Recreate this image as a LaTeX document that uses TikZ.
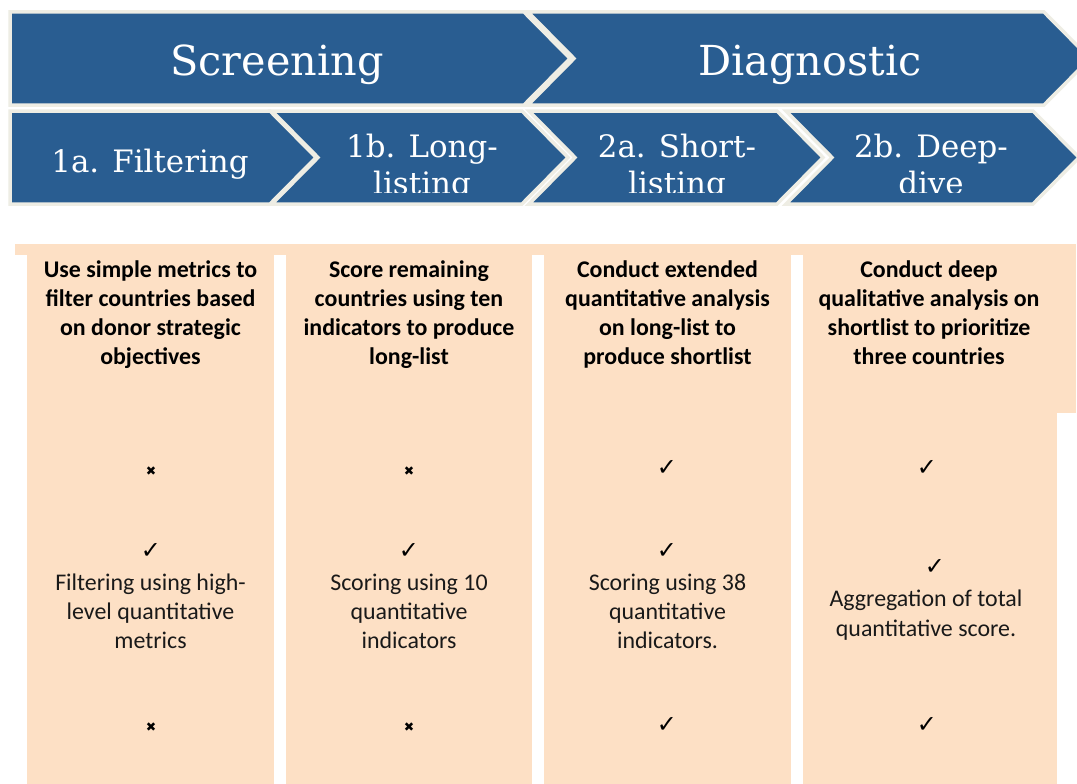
\documentclass[tikz,border=0pt]{standalone}
\usepackage{fontspec}
\setmainfont{Carlito}
\newfontfamily\chevfont{DejaVu Serif}
\newfontfamily\symfont{DejaVu Sans}

\definecolor{chevblue}{RGB}{41,93,145}
\definecolor{chevedge}{RGB}{238,237,228}
\definecolor{peach}{RGB}{253,224,197}

% check / cross glyphs
\newcommand\yes{\symfont\fontsize{24}{24}\selectfont ✓}
\newcommand\no{\symfont\fontsize{12.5}{12.5}\selectfont ✖}

\begin{document}
\begin{tikzpicture}[x=1bp,y=-1bp,
  chev/.style={fill=chevblue, draw=chevedge, line width=3.5bp, line join=miter},
  bigtext/.style={text=white, inner sep=0, anchor=base,
    font=\chevfont\fontsize{41.5}{41.5}\selectfont},
  steptext/.style={text=white, inner sep=0, anchor=base,
    font=\chevfont\fontsize{31}{38}\selectfont},
  hdr/.style={inner sep=0, anchor=base, text=black,
    font=\bfseries\fontsize{24}{29}\selectfont},
  body/.style={inner sep=0, anchor=base, text=black!90,
    font=\fontsize{24}{29}\selectfont},
  tick/.style={inner sep=0, anchor=center, text=black}
]
\useasboundingbox (0,0) rectangle (1077,784);
\fill[white] (0,0) rectangle (1077,784);
\clip (0,0) rectangle (1077,784);

% ---- phase chevrons ----
\path[chev] (10,12) -- (524,12) -- (570,58.5) -- (524,105) -- (10,105) -- cycle;
\path[chev] (528,12) -- (1044,12) -- (1090,58.5) -- (1044,105) -- (528,105) -- (574,58.5) -- cycle;
\node[bigtext] (screening) at (277,76) {Screening};
\node[bigtext] (diagnostic) at (810,76) {Diagnostic};

% ---- step chevrons ----
\path[chev] (10,111) -- (270,111) -- (316,157.5) -- (270,204) -- (10,204) -- cycle;
\path[chev] (272,111) -- (522,111) -- (568,157.5) -- (522,204) -- (272,204) -- (318,157.5) -- cycle;
\path[chev] (529,111) -- (777,111) -- (823,157.5) -- (777,204) -- (529,204) -- (575,157.5) -- cycle;
\path[chev] (786,111) -- (1033,111) -- (1079,157.5) -- (1033,204) -- (786,204) -- (832,157.5) -- cycle;

\node[steptext] (s1a) at (150,172) {1a. Filtering};
\begin{scope}
  \clip (250,111) rectangle (1077,192);
  \node[steptext] (s1b) at (422,157) {\parbox[t]{200bp}{\centering 1b. Long-\\listing}};
  \node[steptext] (s2a) at (677,157) {\parbox[t]{200bp}{\centering 2a. Short-\\listing}};
  \node[steptext] (s2b) at (931,157) {\parbox[t]{200bp}{\centering 2b. Deep-\\dive}};
\end{scope}

% ---- description columns ----
\fill[peach] (15,244) rectangle (1076,255);
\fill[peach] (27,255) rectangle (274,784);
\fill[peach] (286,255) rectangle (532,784);
\fill[peach] (544,255) rectangle (791,784);
\fill[peach] (803,255) rectangle (1057,784);
\fill[peach] (803,244) rectangle (1076,413);

\node[hdr] (h1) at (150.5,277.5) {\parbox[t]{245bp}{\centering Use simple metrics to\\filter countries based\\on donor strategic\\objectives}};
\node[hdr] (h2) at (409,277.5) {\parbox[t]{245bp}{\centering Score remaining\\countries using ten\\indicators to produce\\long-list}};
\node[hdr] (h3) at (667.5,277.5) {\parbox[t]{245bp}{\centering Conduct extended\\quantitative analysis\\on long-list to\\produce shortlist}};
\node[hdr] (h4) at (929,277.5) {\parbox[t]{250bp}{\centering Conduct deep\\qualitative analysis on\\shortlist to prioritize\\three countries}};

% first row of marks
\node[tick] (a1) at (151,471) {\no};
\node[tick] (a2) at (409,471) {\no};
\node[tick] (a3) at (667,468) {\yes};
\node[tick] (a4) at (927,468) {\yes};

% second row: marks and method notes
\node[tick] (b1) at (151,551) {\yes};
\node[tick] (b2) at (409,551) {\yes};
\node[tick] (b3) at (667,551) {\yes};
\node[tick] (b4) at (935,567) {\yes};
\node[body] (t1) at (150.5,590.5) {\parbox[t]{245bp}{\centering Filtering using high-\\level quantitative\\metrics}};
\node[body] (t2) at (409,590.5) {\parbox[t]{245bp}{\centering Scoring using 10\\quantitative\\indicators}};
\node[body] (t3) at (667.5,590.5) {\parbox[t]{245bp}{\centering Scoring using 38\\quantitative\\indicators.}};
\node[body] (t4) at (926,606.5) {\parbox[t]{250bp}{\centering\fontsize{24}{30}\selectfont Aggregation of total\\quantitative score.}};

% third row of marks
\node[tick] (c1) at (151,727) {\no};
\node[tick] (c2) at (409,727) {\no};
\node[tick] (c3) at (667,725) {\yes};
\node[tick] (c4) at (927,725) {\yes};
\end{tikzpicture}
\end{document}
